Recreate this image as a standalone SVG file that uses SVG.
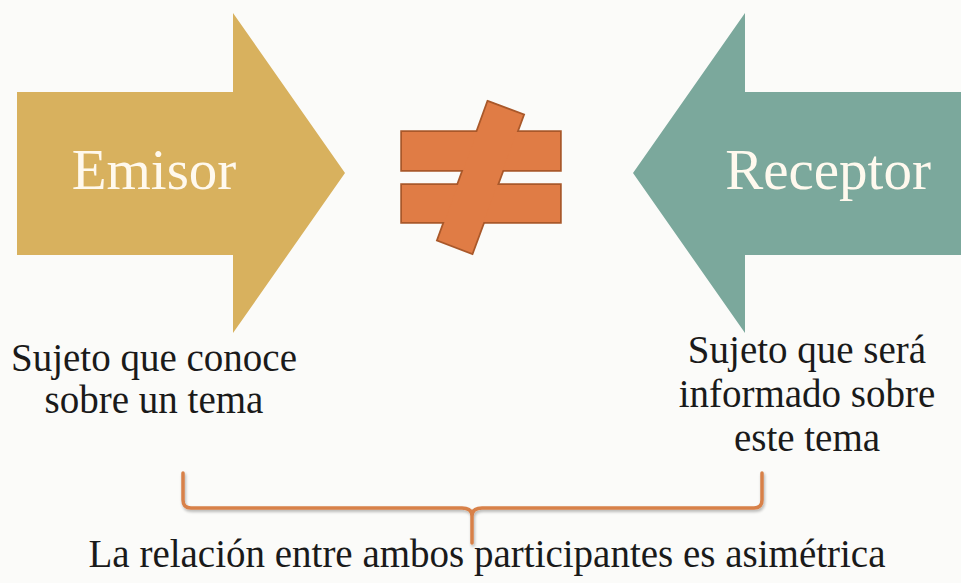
<svg xmlns="http://www.w3.org/2000/svg" width="961" height="583" viewBox="0 0 961 583">
<defs>
<style>
.lbl{font-family:"Liberation Serif","Times New Roman",serif;fill:#1a1a1a;font-size:39px;text-anchor:middle}
.big{font-family:"Liberation Serif","Times New Roman",serif;fill:#FFF9EE;font-size:57px;text-anchor:middle}
.ne{fill:#E07C45}
.nes{fill:none;stroke:#A9582A;stroke-width:3.5;stroke-linejoin:miter}
</style>
<filter id="sh" x="-5%" y="-20%" width="110%" height="160%">
<feGaussianBlur in="SourceAlpha" stdDeviation="1.5"/>
<feOffset dx="1" dy="2" result="b"/>
<feComponentTransfer><feFuncA type="linear" slope="0.3"/></feComponentTransfer>
<feMerge><feMergeNode/><feMergeNode in="SourceGraphic"/></feMerge>
</filter>
</defs>
<rect width="961" height="583" fill="#FBFBF9"/>
<g id="emisor">
<polygon points="17,92 233,92 233,13 345,173 233,333 233,255 17,255" fill="#D8B15E"/>
<text class="big" x="154" y="189">Emisor</text>
</g>
<g id="receptor">
<polygon points="961,92 745,92 745,13 633,173 745,333 745,255 961,255" fill="#7BA89C"/>
<text class="big" x="828" y="189">Receptor</text>
</g>
<g id="not-equal">
<rect class="nes" x="402" y="132" width="158" height="38"/>
<rect class="nes" x="402" y="185" width="158" height="37"/>
<polygon class="nes" points="488,102 523,115 472,253 438,240"/>
<rect class="ne" x="402" y="132" width="158" height="38"/>
<rect class="ne" x="402" y="185" width="158" height="37"/>
<polygon class="ne" points="488,102 523,115 472,253 438,240"/>
</g>
<g id="emisor-desc">
<text class="lbl" x="154" y="371">Sujeto que conoce</text>
<text class="lbl" x="154" y="413">sobre un tema</text>
</g>
<g id="receptor-desc">
<text class="lbl" x="807" y="363">Sujeto que será</text>
<text class="lbl" x="807" y="407">informado sobre</text>
<text class="lbl" x="807" y="451">este tema</text>
</g>
<g id="connectors">
<path d="M183,473 L183,500 Q183,508 191,508 L462,508 Q472,508 472,516 L472,543 M472,543 L472,516 Q472,508 482,508 L754,508 Q762,508 762,500 L762,473" fill="none" stroke="#D8814A" stroke-width="3.5" stroke-linecap="round" filter="url(#sh)"/>
</g>
<g id="relation">
<text class="lbl" x="487" y="567">La relación entre ambos participantes es asimétrica</text>
</g>
</svg>
